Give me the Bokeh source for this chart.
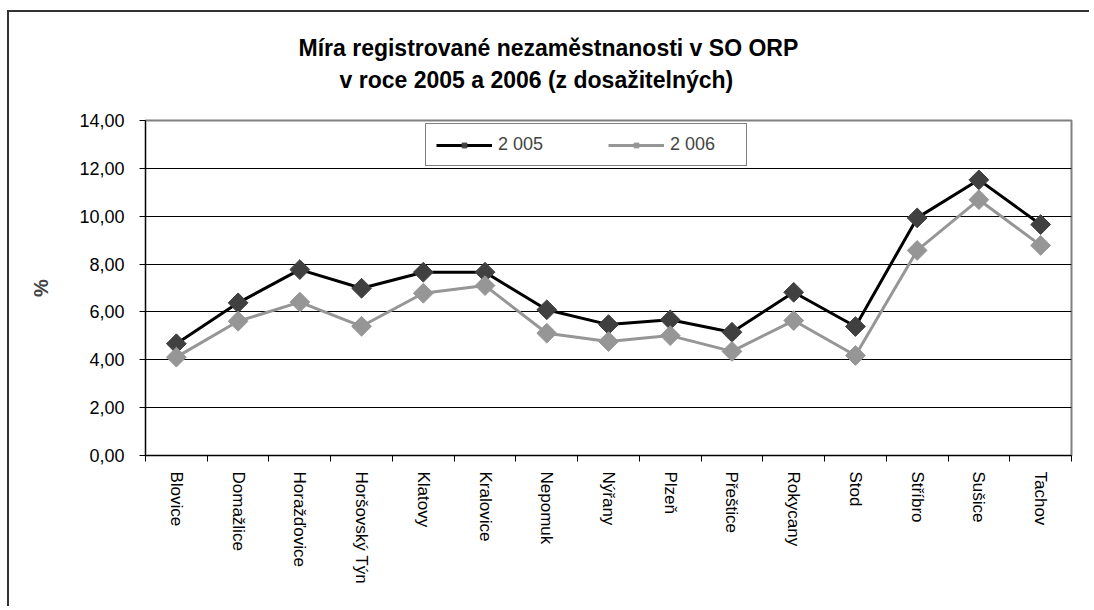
import numpy as np
from bokeh.plotting import figure
from bokeh.models import Range1d, FixedTicker, Legend, LegendItem, Title
from bokeh.embed import file_html
from bokeh.resources import INLINE

# ---- data ----
categories = ["Blovice", "Domažlice", "Horažďovice", "Horšovský Týn", "Klatovy",
              "Kralovice", "Nepomuk", "Nýřany", "Plzeň", "Přeštice", "Rokycany",
              "Stod", "Stříbro", "Sušice", "Tachov"]
v2005 = [4.67, 6.38, 7.77, 6.99, 7.66, 7.66, 6.09, 5.47, 5.67, 5.15, 6.82, 5.39, 9.93, 11.52, 9.65]
v2006 = [4.11, 5.61, 6.41, 5.40, 6.78, 7.10, 5.11, 4.76, 5.01, 4.35, 5.64, 4.18, 8.57, 10.69, 8.78]
series_names = ["2 005", "2 006"]
yticks = [0, 2, 4, 6, 8, 10, 12, 14]
ytick_labels = ["0,00", "2,00", "4,00", "6,00", "8,00", "10,00", "12,00", "14,00"]
title_lines = ["Míra registrované nezaměstnanosti v SO ORP",
               "v roce 2005 a 2006 (z dosažitelných)"]
y_label = "%"

FONT = "Liberation Sans"
n = len(categories)
xc = np.arange(n) + 0.5
bounds = np.arange(n + 1)

p = figure(width=1082, height=596, title=None,
           x_range=Range1d(0, n), y_range=Range1d(yticks[0], yticks[-1]),
           output_backend="svg", toolbar_location=None,
           min_border_left=136, min_border_right=20,
           min_border_top=108, min_border_bottom=153)
p.margin = (10, 0, 0, 7)
p.styles = {"border-top": "2px solid #333333", "border-left": "2px solid #333333"}
p.background_fill_color = "white"
p.border_fill_color = "white"
p.outline_line_color = "#808080"
p.outline_line_width = 2

# grid
p.xgrid.grid_line_color = None
p.ygrid.ticker = FixedTicker(ticks=yticks)
p.ygrid.grid_line_color = "black"
p.ygrid.grid_line_width = 1

# y axis
p.yaxis.ticker = FixedTicker(ticks=yticks)
p.yaxis.major_label_overrides = {t: l for t, l in zip(yticks, ytick_labels)}
p.yaxis.major_label_text_font = FONT
p.yaxis.major_label_text_font_size = "18px"
p.yaxis.major_label_text_color = "black"
p.yaxis.major_tick_out = 6
p.yaxis.major_tick_in = 0
p.yaxis.minor_tick_line_color = None
p.yaxis.axis_line_color = "black"
p.yaxis.major_tick_line_color = "black"
p.yaxis.major_label_standoff = 15
p.yaxis.axis_label = y_label
p.yaxis.axis_label_text_font = FONT
p.yaxis.axis_label_text_font_style = "bold"
p.yaxis.axis_label_text_font_size = "20px"
p.yaxis.axis_label_standoff = 24

# x axis
p.xaxis.ticker = FixedTicker(ticks=list(xc), minor_ticks=list(bounds))
p.xaxis.major_label_overrides = {float(x): c for x, c in zip(xc, categories)}
p.xaxis.major_label_orientation = "vertical"
p.xaxis.major_label_text_font = FONT
p.xaxis.major_label_text_font_size = "17px"
p.xaxis.major_label_text_color = "black"
p.xaxis.major_tick_out = 0
p.xaxis.major_tick_in = 0
p.xaxis.major_tick_line_color = None
p.xaxis.minor_tick_out = 6
p.xaxis.minor_tick_in = 0
p.xaxis.minor_tick_line_color = "black"
p.xaxis.axis_line_color = "black"
p.xaxis.major_label_standoff = 10

# series
l1 = p.line(xc, v2005, line_color="black", line_width=3)
s1 = p.scatter(xc, v2005, marker="square", angle=np.pi / 4, size=14,
               fill_color="#404040", line_color="#404040")
l2 = p.line(xc, v2006, line_color="#969696", line_width=3)
s2 = p.scatter(xc, v2006, marker="square", angle=np.pi / 4, size=14,
               fill_color="#969696", line_color="#969696")

legend = Legend(items=[LegendItem(label=series_names[0], renderers=[l1, s1]),
                       LegendItem(label=series_names[1], renderers=[l2, s2])],
                orientation="horizontal", location=(280, 289),
                padding=10, margin=0, spacing=44,
                glyph_width=56, glyph_height=12, label_height=12,
                label_width=66, label_standoff=6,
                label_text_font=FONT, label_text_font_size="18px",
                border_line_color="black", border_line_width=1,
                background_fill_color="white", background_fill_alpha=1)
p.add_layout(legend)

# title: spacer nearest the plot, then the two lines
p.add_layout(Title(text=" ", standoff=13, text_font=FONT, text_font_size="10px"), "above")
p.add_layout(Title(text=title_lines[1], align="left", offset=194, standoff=4,
                   text_font=FONT, text_font_size="23px", text_font_style="bold",
                   text_color="black"), "above")
p.add_layout(Title(text=title_lines[0], align="left", offset=153, standoff=4,
                   text_font=FONT, text_font_size="23px", text_font_style="bold",
                   text_color="black"), "above")

open("out.html", "w").write(file_html(p, INLINE))
